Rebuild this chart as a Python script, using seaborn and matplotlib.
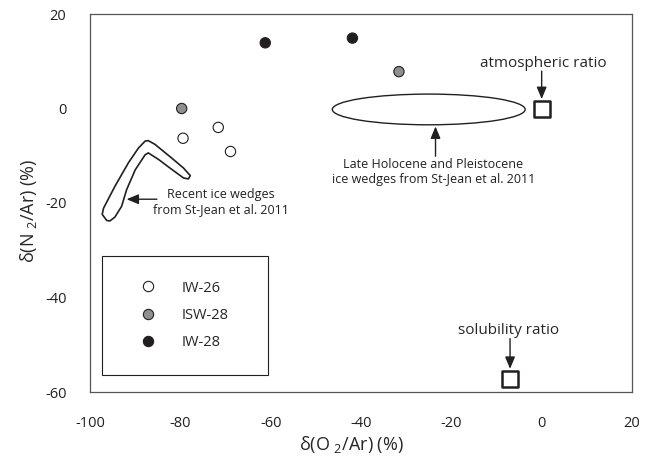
import matplotlib
matplotlib.use('Agg')
import matplotlib.pyplot as plt
from matplotlib.patches import Ellipse, Polygon, Rectangle
import numpy as np
import pandas as pd
import seaborn as sns

# measured samples
SERIES = ['IW-26', 'IW-26', 'IW-26', 'ISW-28', 'ISW-28', 'IW-28', 'IW-28']
O2_AR = [-79.4, -71.6, -68.9, -79.7, -31.6, -61.2, -41.9]
N2_AR = [-6.3, -4.0, -9.1, 0.0, 7.8, 13.9, 14.9]
COLOURS = {'IW-26': 'white', 'ISW-28': '#8f8f8f', 'IW-28': '#231f20'}

# reference ratios
REF_NAMES = ['atmospheric ratio', 'solubility ratio']
REF_O2 = [0.0, -7.0]
REF_N2 = [0.0, -57.2]

# St-Jean et al. 2011 fields
HOLOCENE_CENTRE = (-25.0, -0.2)
HOLOCENE_SIZE = (42.7, 6.5)
RECENT_O2 = [-96.3, -97.3, -97.0, -94.5, -91.5, -89.3, -87.8, -87.1, -85.6,
             -81.9, -79.3, -77.8, -78.2, -79.3, -82.3, -84.8, -87.1, -87.8,
             -90.0, -91.9, -93.0, -94.5, -95.6]
RECENT_N2 = [-23.7, -22.4, -21.1, -16.5, -11.5, -8.4, -6.9, -6.8, -7.6,
             -10.5, -12.6, -14.2, -14.9, -14.7, -12.6, -10.8, -9.4, -9.8,
             -13.0, -17.2, -20.7, -23.0, -23.8]

FONT = ['Open Sans', 'DejaVu Sans']


def main():
    sns.set_theme(style='white')
    plt.rcParams['font.family'] = FONT
    plt.rcParams['axes.unicode_minus'] = False
    plt.rcParams['mathtext.fontset'] = 'custom'
    plt.rcParams['mathtext.rm'] = 'Open Sans'
    plt.rcParams['mathtext.it'] = 'Open Sans'

    fig = plt.figure(figsize=(6.49, 4.62), dpi=100)
    ax = fig.add_axes([90 / 649, 70 / 462, 542 / 649, 378 / 462])

    df = pd.DataFrame({'O2': O2_AR, 'N2': N2_AR, 'Sample': SERIES})
    sns.scatterplot(df, x='O2', y='N2', hue='Sample', palette=COLOURS,
                    hue_order=list(COLOURS), s=55, edgecolor='#231f20',
                    linewidth=0.8, zorder=3, ax=ax)

    refs = pd.DataFrame({'O2': REF_O2, 'N2': REF_N2})
    sns.scatterplot(refs, x='O2', y='N2', marker='s', s=140,
                    facecolor='white', edgecolor='#231f20', linewidth=1.8,
                    zorder=3, legend=False, ax=ax)

    ax.add_patch(Ellipse(HOLOCENE_CENTRE, *HOLOCENE_SIZE, fill=False,
                         edgecolor='#231f20', lw=1.0))
    ax.add_patch(Polygon(np.column_stack([RECENT_O2, RECENT_N2]),
                         closed=True, fill=False, edgecolor='#231f20',
                         lw=1.2, joinstyle='round'))

    arrow = dict(arrowstyle='-|>,head_length=0.6,head_width=0.25',
                 color='#231f20', lw=1.0, shrinkA=0, shrinkB=0)
    ax.annotate('', xy=(REF_O2[0], 2.0), xytext=(REF_O2[0], 7.9),
                arrowprops=arrow)
    ax.text(0.4, 9.6, REF_NAMES[0], ha='center', va='center', fontsize=11)
    ax.annotate('', xy=(REF_O2[1], -55.1), xytext=(REF_O2[1], -48.7),
                arrowprops=arrow)
    ax.text(-7.3, -47.0, REF_NAMES[1], ha='center', va='center', fontsize=11)
    ax.annotate('', xy=(-23.5, -3.8), xytext=(-23.5, -10.1),
                arrowprops=arrow)
    ax.text(-24.0, -13.4,
            'Late Holocene and Pleistocene\nice wedges from St-Jean et al. 2011',
            ha='center', va='center', fontsize=9, linespacing=1.25,
            color='#231f20')
    ax.annotate('', xy=(-91.9, -19.2), xytext=(-85.2, -19.2),
                arrowprops=arrow)
    ax.text(-71.0, -19.8, 'Recent ice wedges\nfrom St-Jean et al. 2011',
            ha='center', va='center', fontsize=9, linespacing=1.25,
            color='#231f20')

    ax.set_xlim(-100, 20)
    ax.set_ylim(-60, 20)
    ax.set_xticks(np.arange(-100, 21, 20))
    ax.set_yticks(np.arange(-60, 21, 20))
    ax.tick_params(axis='x', direction='inout', length=5, width=0.8,
                   pad=15, labelsize=10.5, colors='#231f20')
    ax.tick_params(axis='y', direction='out', length=5, width=0.8,
                   pad=12, labelsize=10.5, colors='#231f20')
    for spine in ax.spines.values():
        spine.set_visible(True)
        spine.set_color('#555555')
        spine.set_linewidth(0.9)

    ax.set_xlabel(r'δ(O $_{\mathregular{2}}$/Ar) (%)', fontsize=13)
    ax.set_ylabel(r'δ(N $_{\mathregular{2}}$/Ar) (%)', fontsize=13)
    ax.xaxis.set_label_coords(0.483, -0.11)
    ax.yaxis.set_label_coords(-0.095, 0.48)

    handles, labels = ax.get_legend_handles_labels()
    ax.add_patch(Rectangle((0.0227, 0.045), 0.306, 0.315,
                           transform=ax.transAxes, fill=False,
                           edgecolor='#231f20', lw=0.8))
    ax.legend(handles, labels, loc='center', bbox_to_anchor=(0.1755, 0.2025),
              frameon=False, prop={'family': FONT, 'size': 10.5},
              handlelength=1.0, handletextpad=1.8, labelspacing=0.85)

    fig.savefig('out.png', dpi=100)


if __name__ == '__main__':
    main()
